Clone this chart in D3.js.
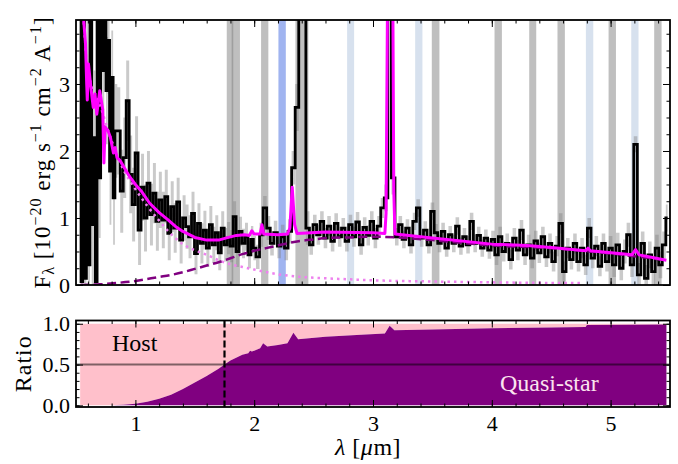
<!DOCTYPE html>
<html>
<head>
<meta charset="utf-8">
<script src="https://cdn.jsdelivr.net/npm/d3@7"></script>
<style>
  body { margin: 0; background: #fff; }
  svg text { font-family: "Liberation Serif", "DejaVu Serif", serif; }
</style>
</head>
<body>
<script>
// ---- observed spectrum (micron, 1e-20 erg/s/cm2/A) ----
const specWave = [
  0.535,0.55,0.565,0.58,0.595,0.61,0.625,0.64,0.655,0.67,0.685,0.70,0.715,0.73,0.745,0.76,0.775,0.79,0.805,0.82,0.835,
  0.86,0.885,0.91,0.935,0.96,0.985,1.01,1.035,1.06,1.085,1.11,1.135,1.16,1.185,1.21,1.235,1.26,1.285,1.31,1.335,
  1.36,1.385,1.41,1.435,1.46,1.485,1.51,1.535,1.56,1.585,1.61,1.635,1.66,1.685,1.71,1.735,1.76,1.785,1.81,1.835,
  1.86,1.885,1.91,1.935,1.96,1.985,
  2.00,2.03,2.06,2.09,2.12,2.15,2.18,2.21,2.24,2.27,
  2.30,2.33,2.36,2.39,2.42,2.45,2.48,2.51,2.54,2.57,
  2.60,2.63,2.66,2.69,2.72,2.75,2.78,2.81,2.84,2.87,
  2.90,2.93,2.96,2.99,3.02,3.05,3.08,3.11,3.14,3.17,
  3.20,3.23,3.26,3.29,3.32,3.35,3.38,3.41,3.44,3.47,
  3.50,3.53,3.56,3.59,3.62,3.65,3.68,3.71,3.74,3.77,
  3.80,3.83,3.86,3.89,3.92,3.95,3.98,4.01,4.04,4.07,
  4.10,4.13,4.16,4.19,4.22,4.25,4.28,4.31,4.34,4.37,
  4.40,4.43,4.46,4.49,4.52,4.55,4.58,4.61,4.64,4.67,
  4.70,4.73,4.76,4.79,4.82,4.85,4.88,4.91,4.94,4.97,
  5.00,5.03,5.06,5.09,5.12,5.15,5.18,5.21,5.24,5.27,
  5.30,5.33,5.36,5.39,5.42,5.45,5.48
];
const specFlux = [
  4.8,0.05,4.6,0.1,3.0,0.3,4.5,0.9,2.2,0.05,4.6,1.6,4.4,3.2,4.5,2.9,3.65,1.7,3.1,1.3,2.3,
  2.3,1.4,1.9,2.75,1.65,1.2,1.97,0.82,1.46,1.0,1.52,1.05,1.37,0.95,1.27,0.97,1.32,0.77,1.17,0.85,
  1.24,0.67,1.0,0.87,0.72,1.07,0.47,0.92,0.62,0.82,0.55,0.9,0.6,0.78,0.48,0.85,0.6,0.7,0.58,1.02,
  0.5,0.8,0.62,0.72,0.45,0.68,
  0.55,0.42,0.75,1.15,0.85,0.62,0.78,0.58,0.72,0.55,
  0.80,1.75,2.65,5.0,5.0,0.85,0.60,0.90,0.75,0.95,
  0.70,0.88,0.65,0.92,0.72,0.85,0.65,0.90,0.72,0.94,
  0.60,0.86,0.74,0.95,0.70,0.88,1.15,1.30,6.0,1.60,
  0.72,0.90,0.68,0.85,0.60,0.95,1.15,0.70,0.82,0.60,
  1.10,0.78,0.62,0.80,0.55,0.75,0.62,0.88,0.58,0.72,
  0.60,0.95,0.62,0.74,0.55,0.70,0.52,0.68,0.45,0.72,
  0.50,0.62,0.38,0.70,0.52,0.82,0.45,0.60,0.40,0.66,
  0.48,0.72,0.42,0.62,0.35,0.58,0.92,0.20,0.55,0.38,
  0.62,0.35,0.55,0.30,0.85,0.40,0.58,0.28,0.62,0.35,
  0.55,0.30,0.60,0.25,0.50,0.75,0.30,2.10,0.15,0.62,
  0.10,0.45,0.20,0.55,0.30,0.60,1.00
];
const specErr = [
  1.2,1.1,1.2,1.0,1.1,1.0,1.1,0.9,1.0,0.9,1.0,0.9,1.0,0.9,0.9,0.8,0.8,0.8,0.7,0.7,0.7,
  0.65,0.62,0.6,0.6,0.58,0.55,0.55,0.52,0.5,0.5,0.48,0.46,0.45,0.44,0.42,0.42,0.4,0.4,0.38,0.37,
  0.36,0.35,0.34,0.33,0.32,0.32,0.31,0.3,0.3,0.29,0.28,0.28,0.27,0.26,0.26,0.25,0.25,0.24,0.24,0.23,
  0.23,0.22,0.22,0.21,0.2,0.2,
  0.18,0.18,0.18,0.18,0.18,0.18,0.18,0.18,0.18,0.18,
  0.18,0.25,0.35,0.6,0.6,0.25,0.15,0.15,0.15,0.15,
  0.15,0.15,0.15,0.15,0.15,0.15,0.15,0.15,0.15,0.15,
  0.15,0.15,0.15,0.15,0.15,0.15,0.15,0.2,0.6,0.25,
  0.13,0.13,0.13,0.13,0.13,0.13,0.13,0.13,0.13,0.13,
  0.13,0.13,0.13,0.13,0.13,0.13,0.13,0.13,0.13,0.13,
  0.13,0.13,0.13,0.13,0.13,0.13,0.13,0.13,0.15,0.15,
  0.15,0.15,0.15,0.15,0.15,0.15,0.15,0.15,0.15,0.15,
  0.15,0.15,0.15,0.15,0.15,0.15,0.15,0.15,0.15,0.15,
  0.15,0.15,0.15,0.15,0.15,0.15,0.15,0.15,0.15,0.15,
  0.18,0.18,0.18,0.18,0.18,0.18,0.18,0.12,0.18,0.18,
  0.2,0.2,0.2,0.2,0.2,0.2,0.2
];

// ---- best-fit total model ----
const modelWave = [0.535,0.55,0.58,0.59,0.595,0.605,0.625,0.645,0.66,0.675,0.70,0.725,0.735,0.745,0.77,0.79,0.815,0.83,0.845,0.87,
  0.95,1.0,1.05,1.12,1.2,1.27,1.34,1.40,1.5,1.6,1.7,1.76,1.85,1.92,1.96,1.98,2.0,2.05,2.065,2.08,2.2,2.28,2.30,2.32,2.34,2.36,
  2.6,3.0,3.10,3.11,3.125,3.165,3.175,3.185,3.5,4.0,4.3,4.5,4.79,4.81,4.83,5.18,5.21,5.24,5.47];
const modelFlux = [4.6,4.3,3.6,3.0,2.76,3.3,2.95,2.65,2.85,2.55,2.9,2.62,1.82,2.36,2.3,2.2,1.97,2.05,1.9,1.86,
  1.62,1.5,1.4,1.22,1.08,0.98,0.87,0.80,0.71,0.67,0.67,0.70,0.74,0.75,0.74,0.81,0.76,0.76,0.9,0.76,0.75,0.76,0.85,1.46,0.9,0.77,
  0.79,0.78,0.77,1.07,5.0,5.0,1.4,0.76,0.70,0.61,0.59,0.56,0.51,0.55,0.51,0.45,0.53,0.45,0.37];

// ---- host galaxy component (dotted) ----
const hostWave = [0.535,0.55,0.6,0.7,0.8,0.9,1.0,1.1,1.2,1.3,1.4,1.5,1.6,1.7,1.8,1.9,2.0,2.2,2.4,2.6,2.8,3.0,3.4,3.8,4.2,4.6,4.77];
const hostFlux = [4.6,4.3,3.2,2.7,2.15,1.72,1.43,1.18,0.96,0.76,0.61,0.52,0.45,0.37,0.31,0.27,0.23,0.16,0.12,0.10,0.085,0.07,0.055,0.045,0.035,0.03,0.028];

// ---- quasi-star component (dashed) ----
const quasiWave = [0.535,0.7,0.9,1.0,1.1,1.2,1.3,1.4,1.5,1.6,1.7,1.8,1.9,2.0,2.1,2.2,2.3,2.4,2.5,2.6,2.8,3.0,3.2,3.5,4.0,4.5,5.0,5.47];
const quasiFlux = [0.0,0.01,0.04,0.06,0.09,0.12,0.15,0.19,0.24,0.29,0.34,0.40,0.46,0.51,0.55,0.59,0.63,0.66,0.68,0.70,0.71,0.72,0.71,0.67,0.59,0.55,0.47,0.37];

// ---- quasi-star fraction (lower panel) ----
const ratioWave = [0.535,0.8,0.9,1.0,1.1,1.2,1.3,1.4,1.5,1.6,1.7,1.75,1.8,1.9,1.95,1.965,1.98,2.0,2.05,2.075,2.11,2.2,2.28,2.33,2.37,2.6,2.9,3.1,3.14,3.18,3.5,4.0,4.5,4.79,4.80,5.47];
const ratioVal  = [0.0,0.002,0.008,0.02,0.045,0.08,0.13,0.2,0.28,0.36,0.45,0.5,0.55,0.62,0.64,0.67,0.66,0.67,0.7,0.76,0.72,0.74,0.76,0.89,0.81,0.84,0.865,0.88,0.975,0.92,0.93,0.945,0.955,0.96,0.985,0.99];

// ---- masked / flagged wavelength windows ----
const maskGray = [[1.769,1.824],[1.81,1.88],[2.058,2.119],[2.347,2.456],[3.495,3.559],[4.023,4.085],[4.315,4.374],[4.553,4.615],[4.983,5.045],[5.367,5.429]];
const maskLightBlue = [[2.782,2.841],[3.355,3.416],[4.792,4.854],[5.174,5.235]];
const maskBlue = [[2.204,2.266]];

const xTicks = [1,2,3,4,5];
const yTicksTop = [0,1,2,3];
const yTicksBot = [0.0,0.5,1.0];
const splitWave = 1.75;

const W = 678, H = 464;
const L = 76, R = 670, T1 = 20, B1 = 285, T2 = 320.5, B2 = 407;
const FONT = '"Liberation Serif", "DejaVu Serif", serif';

const svg = d3.select('body').append('svg').attr('width', W).attr('height', H);

const x = d3.scaleLinear().domain([0.5, 5.5]).range([L, R]);
const yTop = d3.scaleLinear().domain([0, 3.955]).range([B1, T1]);
const yBot = d3.scaleLinear().domain([-0.02, 1.04]).range([B2, T2]);

const defs = svg.append('defs');
defs.append('clipPath').attr('id', 'c1').append('rect').attr('x', L).attr('y', T1).attr('width', R - L).attr('height', B1 - T1);
defs.append('clipPath').attr('id', 'c2').append('rect').attr('x', L).attr('y', T2).attr('width', R - L).attr('height', B2 - T2);

// ===== top panel =====
const topG = svg.append('g').attr('clip-path', 'url(#c1)');

function bands(list, color) {
  topG.selectAll(null).data(list).enter().append('rect')
    .attr('x', d => x(d[0])).attr('width', d => x(d[1]) - x(d[0]))
    .attr('y', T1).attr('height', B1 - T1)
    .attr('fill', color).attr('fill-opacity', 0.5);
}
bands(maskGray, 'gray');
bands(maskLightBlue, 'lightsteelblue');
bands(maskBlue, 'royalblue');

const spec = specWave.map((w, i) => ({ w: w, f: specFlux[i], e: specErr[i] }));

topG.append('path').datum(spec)
  .attr('d', d3.area().curve(d3.curveStep)
    .x(d => x(d.w)).y0(d => yTop(d.f - d.e)).y1(d => yTop(d.f + d.e)))
  .attr('fill', 'gray').attr('fill-opacity', 0.42);

topG.append('path').datum(spec)
  .attr('d', d3.line().curve(d3.curveStep).x(d => x(d.w)).y(d => yTop(d.f)))
  .attr('fill', 'none').attr('stroke', '#000').attr('stroke-width', 2.8);

const pts = (ws, fs) => ws.map((w, i) => [w, fs[i]]);
const lineTop = d3.line().x(d => x(d[0])).y(d => yTop(d[1]));

topG.append('path').datum(pts(hostWave, hostFlux)).attr('d', lineTop.curve(d3.curveMonotoneX))
  .attr('fill', 'none').attr('stroke', 'violet').attr('stroke-width', 2.5)
  .attr('stroke-dasharray', '2.5,4');

topG.append('path').datum(pts(quasiWave, quasiFlux)).attr('d', lineTop.curve(d3.curveMonotoneX))
  .attr('fill', 'none').attr('stroke', 'purple').attr('stroke-width', 2.5)
  .attr('stroke-dasharray', '9,4.5');

topG.append('path').datum(pts(modelWave, modelFlux)).attr('d', lineTop.curve(d3.curveLinear))
  .attr('fill', 'none').attr('stroke', 'magenta').attr('stroke-width', 3)
  .attr('stroke-linejoin', 'round');

// ===== bottom panel =====
const botG = svg.append('g').attr('clip-path', 'url(#c2)');
const ratio = pts(ratioWave, ratioVal);

botG.append('path').datum(ratio)
  .attr('d', d3.area().x(d => x(d[0])).y0(yBot(1)).y1(d => yBot(d[1])))
  .attr('fill', 'pink');
botG.append('path').datum(ratio)
  .attr('d', d3.area().x(d => x(d[0])).y0(yBot(0)).y1(d => yBot(d[1])))
  .attr('fill', 'purple');

botG.append('line').attr('x1', L).attr('x2', R).attr('y1', yBot(0.5)).attr('y2', yBot(0.5))
  .attr('stroke', '#000').attr('stroke-opacity', 0.5).attr('stroke-width', 2);

botG.append('line').attr('x1', x(splitWave)).attr('x2', x(splitWave)).attr('y1', T2).attr('y2', B2)
  .attr('stroke', '#000').attr('stroke-width', 2.2).attr('stroke-dasharray', '7,3');

svg.append('text').attr('x', 112).attr('y', 351).attr('font-size', 24).text('Host');
svg.append('text').attr('x', 500).attr('y', 391).attr('font-size', 24).attr('fill', '#fbe3ee').text('Quasi-star');

// ===== axes (ticks inward on all sides) =====
function axis(gen, tr, vals, size, fmt, pad) {
  const g = svg.append('g').attr('transform', tr)
    .call(gen.tickValues(vals).tickSize(size).tickPadding(pad || 7).tickFormat(fmt || (() => '')));
  g.select('.domain').remove();
  g.selectAll('line').attr('stroke', '#000').attr('stroke-width', 1);
  g.attr('font-family', FONT).attr('font-size', 22);
  g.selectAll('text').attr('fill', '#000');
  return g;
}
const xMinor = x.ticks(25);
const yMinorTop = d3.range(0, 3.9, 0.25);
const yMinorBot = d3.range(0, 1.05, 0.1);

[[T1, B1, yTop, yTicksTop, yMinorTop, d3.format('d')], [T2, B2, yBot, yTicksBot, yMinorBot, d3.format('.1f')]].forEach((p, k) => {
  const [t, b, ys, maj, mnr, fmt] = p;
  axis(d3.axisBottom(x), `translate(0,${b})`, xTicks, -7, k === 1 ? (d => d) : null, 8);
  axis(d3.axisBottom(x), `translate(0,${b})`, xMinor, -3.5);
  axis(d3.axisTop(x), `translate(0,${t})`, xTicks, -7);
  axis(d3.axisTop(x), `translate(0,${t})`, xMinor, -3.5);
  axis(d3.axisLeft(ys), `translate(${L},0)`, maj, -7, fmt, 6);
  axis(d3.axisLeft(ys), `translate(${L},0)`, mnr, -3.5);
  axis(d3.axisRight(ys), `translate(${R},0)`, maj, -7);
  axis(d3.axisRight(ys), `translate(${R},0)`, mnr, -3.5);
  svg.append('rect').attr('x', L).attr('y', t).attr('width', R - L).attr('height', b - t)
    .attr('fill', 'none').attr('stroke', '#000').attr('stroke-width', 1.8);
});

// ===== labels =====
const yl = svg.append('text').attr('transform', `translate(50,${(T1 + B1) / 2}) rotate(-90)`)
  .attr('text-anchor', 'middle').attr('font-size', 23).attr('letter-spacing', 1);
yl.append('tspan').text('F');
yl.append('tspan').attr('font-size', 16).attr('dy', 4).text('λ');
yl.append('tspan').attr('dy', -4).text(' [10');
yl.append('tspan').attr('font-size', 16).attr('dy', -9).text('−20');
yl.append('tspan').attr('dy', 9).text(' erg s');
yl.append('tspan').attr('font-size', 16).attr('dy', -9).text('−1');
yl.append('tspan').attr('dy', 9).text(' cm');
yl.append('tspan').attr('font-size', 16).attr('dy', -9).text('−2');
yl.append('tspan').attr('dy', 9).text(' A');
yl.append('tspan').attr('font-size', 16).attr('dy', -9).text('−1');
yl.append('tspan').attr('dy', 9).text(']');

svg.append('text').attr('transform', `translate(31,${(T2 + B2) / 2}) rotate(-90)`)
  .attr('text-anchor', 'middle').attr('font-size', 24).attr('letter-spacing', 1).text('Ratio');

const xl = svg.append('text').attr('x', 368).attr('y', 455).attr('text-anchor', 'middle')
  .attr('font-size', 24).attr('letter-spacing', 0.5);
xl.append('tspan').attr('font-style', 'italic').text('λ');
xl.append('tspan').text(' [');
xl.append('tspan').attr('font-style', 'italic').text('μ');
xl.append('tspan').text('m]');
</script>
</body>
</html>
